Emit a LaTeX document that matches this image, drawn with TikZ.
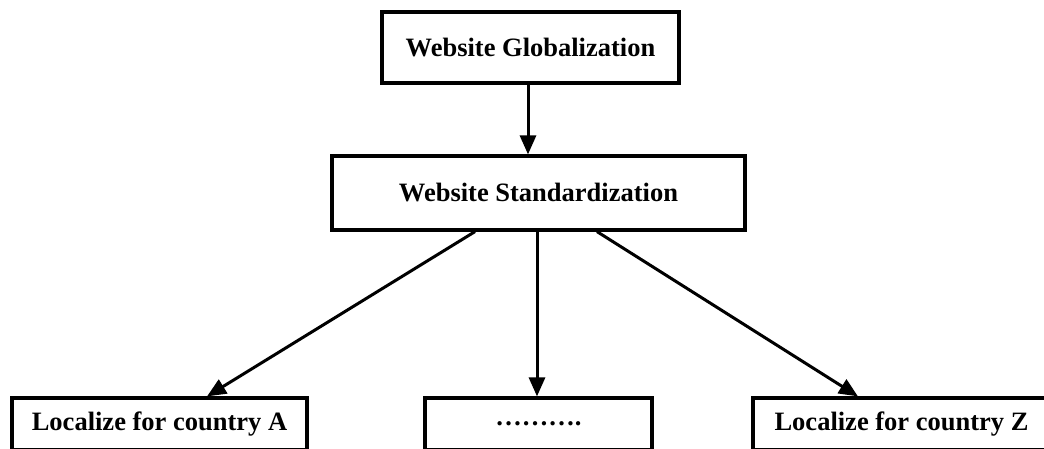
\documentclass[tikz,border=0pt]{standalone}
\usepackage{fontspec}
\setmainfont{Liberation Serif}
\usetikzlibrary{arrows.meta}
\begin{document}
\begin{tikzpicture}[x=1pt,y=-1pt,
  box/.style={draw=black,line width=3.2pt,fill=white,inner sep=0pt,
    font=\fontsize{26.5}{30}\selectfont\bfseries},
  arr/.style={line width=3pt,-{Triangle[length=19pt,width=16pt]}}]
  \useasboundingbox (0,0) rectangle (1044,449);
  \clip (0,0) rectangle (1044,449);
  % boxes
  \node[box,minimum width=297pt,minimum height=71pt] (glob) at (530.5,47.5) {Website Globalization};
  \node[box,minimum width=413pt,minimum height=74pt] (std) at (538.5,193) {Website Standardization};
  \node[box,minimum width=295pt,minimum height=52pt] (locA) at (159.5,424) {Localize for country A};
  \node[box,minimum width=227pt,minimum height=52pt] (dots) at (538.5,424) {……….};
  \node[box,minimum width=297pt,minimum height=52pt] (locZ) at (901.5,424) {Localize for country Z};
  % connectors
  \draw[arr] ([xshift=-2.5pt]glob.south) -- ([xshift=-10.5pt]std.north);
  \draw[arr] ([xshift=-63.5pt]std.south) -- ([xshift=47.5pt]locA.north);
  \draw[arr] ([xshift=-1.5pt]std.south) -- ([xshift=-1.5pt]dots.north);
  \draw[arr] ([xshift=58.5pt]std.south) -- ([xshift=-43.5pt]locZ.north);
\end{tikzpicture}
\end{document}
